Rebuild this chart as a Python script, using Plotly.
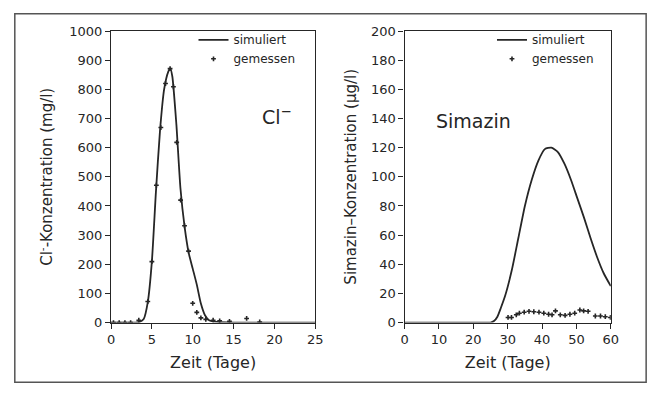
import plotly.graph_objects as go

# ---- Data ----
cl_sim_t = [0, 1, 2, 3, 3.5, 4, 4.5, 5, 5.5, 6, 6.5, 7, 7.25, 7.5, 8, 8.5, 9, 9.5, 10, 10.5, 11, 11.5, 12, 13, 15, 20, 25]
cl_sim_c = [0, 0, 0, 0, 2, 12, 70, 210, 450, 660, 800, 860, 872, 845, 680, 460, 330, 240, 185, 130, 65, 25, 8, 2, 0, 0, 0]

cl_meas_t = [0.3, 1.0, 1.7, 2.4, 3.4, 4.5, 5.0, 5.55, 6.1, 6.67, 7.23, 7.64, 8.04, 8.52, 9.0, 9.49, 10.0, 10.5, 11.0, 11.6, 12.5, 13.3, 14.5, 16.6, 18.2]
cl_meas_c = [0, 0, 0, 0, 8, 72, 209, 471, 669, 820, 871, 809, 618, 420, 332, 245, 66, 35, 16, 11, 8, 6, 4, 14, 2]

sim_sim_t = [0, 10, 20, 25, 26, 27, 28, 29.3, 31.2, 33.1, 35, 37, 38.9, 40.8, 42.7, 44.6, 46.5, 48.4, 50.3, 52.2, 54.1, 56, 57.9, 60]
sim_sim_c = [0, 0, 0, 0, 1, 4, 10, 18.7, 36, 58, 80, 98, 111, 119, 120, 117, 109, 98, 85, 72, 58, 45, 34, 25]

sim_meas_t = [30.1, 31.1, 32.5, 33.4, 34.8, 36.2, 37.6, 39.1, 40.5, 41.9, 42.9, 43.9, 45.3, 46.7, 48.1, 49.5, 51.0, 52.1, 53.4, 55.5, 57.0, 58.4, 59.9]
sim_meas_c = [3.5, 3.5, 5.3, 6.4, 7.1, 7.7, 7.4, 7.1, 6.4, 5.7, 5.3, 8.0, 5.3, 4.9, 5.7, 6.4, 8.6, 8.0, 7.7, 4.5, 4.5, 4.0, 3.5]

cl_xticks = [0, 5, 10, 15, 20, 25]
cl_yticks = list(range(0, 1001, 100))
sim_xticks = [0, 10, 20, 30, 40, 50, 60]
sim_yticks = list(range(0, 201, 20))

W, H = 662, 395
FONT = "DejaVu Sans"
INK = "#262626"

fig = go.Figure()
fig.add_trace(go.Scatter(x=cl_sim_t, y=cl_sim_c, mode="lines", name="simuliert",
                         line=dict(color=INK, width=1.8, shape="spline", smoothing=0.6),
                         xaxis="x", yaxis="y", legend="legend"))
fig.add_trace(go.Scatter(x=cl_meas_t, y=cl_meas_c, mode="markers", name="gemessen",
                         marker=dict(symbol="cross", size=4, color=INK),
                         xaxis="x", yaxis="y", legend="legend"))
fig.add_trace(go.Scatter(x=sim_sim_t, y=sim_sim_c, mode="lines", name="simuliert",
                         line=dict(color=INK, width=1.8, shape="spline", smoothing=0.6),
                         xaxis="x2", yaxis="y2", legend="legend2"))
fig.add_trace(go.Scatter(x=sim_meas_t, y=sim_meas_c, mode="markers", name="gemessen",
                         marker=dict(symbol="cross", size=4, color=INK),
                         xaxis="x2", yaxis="y2", legend="legend2"))

def px(x):
    return x / W

def py(y):
    return 1 - y / H

axis_common = dict(showline=True, linecolor=INK, linewidth=1.3, mirror=True,
                   ticks="outside", ticklen=5, tickcolor=INK, tickwidth=1.3,
                   showgrid=False, zeroline=False,
                   tickfont=dict(family=FONT, size=13, color=INK))
ytitle_font = dict(family=FONT, size=15, color=INK)
xtitle_font = dict(family=FONT, size=16, color=INK)
legend_font = dict(family=FONT, size=12, color=INK)

fig.update_layout(
    width=W, height=H, margin=dict(l=0, r=0, t=0, b=0),
    paper_bgcolor="white", plot_bgcolor="white",
    font=dict(family=FONT, color=INK),
    xaxis=dict(domain=[px(109), px(317)], range=[0, 25], tickvals=cl_xticks,
               title=dict(text="Zeit (Tage)", font=xtitle_font, standoff=10),
               anchor="y", **axis_common),
    yaxis=dict(domain=[py(328), py(25)], range=[0, 1000], tickvals=cl_yticks,
               title=dict(text="Cl<sup>-</sup>-Konzentration (mg/l)", font=ytitle_font, standoff=12),
               anchor="x", **axis_common),
    xaxis2=dict(domain=[px(408), px(618)], range=[0, 60], tickvals=sim_xticks,
                title=dict(text="Zeit (Tage)", font=xtitle_font, standoff=10),
                anchor="y2", **axis_common),
    yaxis2=dict(domain=[py(328), py(25)], range=[0, 200], tickvals=sim_yticks,
                title=dict(text="Simazin–Konzentration (µg/l)", font=ytitle_font, standoff=10),
                anchor="x2", **axis_common),
    legend=dict(x=px(193), y=py(19), xanchor="left", yanchor="top",
                bgcolor="rgba(0,0,0,0)", itemwidth=30, tracegroupgap=0,
                font=legend_font),
    legend2=dict(x=px(497), y=py(19), xanchor="left", yanchor="top",
                 bgcolor="rgba(0,0,0,0)", itemwidth=30, tracegroupgap=0,
                 font=legend_font),
    showlegend=True,
    annotations=[
        dict(text="Cl<sup>−</sup>", x=18.2, y=710, xref="x", yref="y",
             xanchor="left", yanchor="middle", showarrow=False,
             font=dict(family=FONT, size=19, color=INK)),
        dict(text="Simazin", x=8.6, y=138, xref="x2", yref="y2",
             xanchor="left", yanchor="middle", showarrow=False,
             font=dict(family=FONT, size=19, color=INK)),
    ],
    shapes=[
        dict(type="rect", xref="paper", yref="paper",
             x0=px(11), x1=px(654), y0=py(390), y1=py(7),
             line=dict(color="#555555", width=1.5), fillcolor="rgba(0,0,0,0)"),
    ],
)

fig.write_html("out.html")
